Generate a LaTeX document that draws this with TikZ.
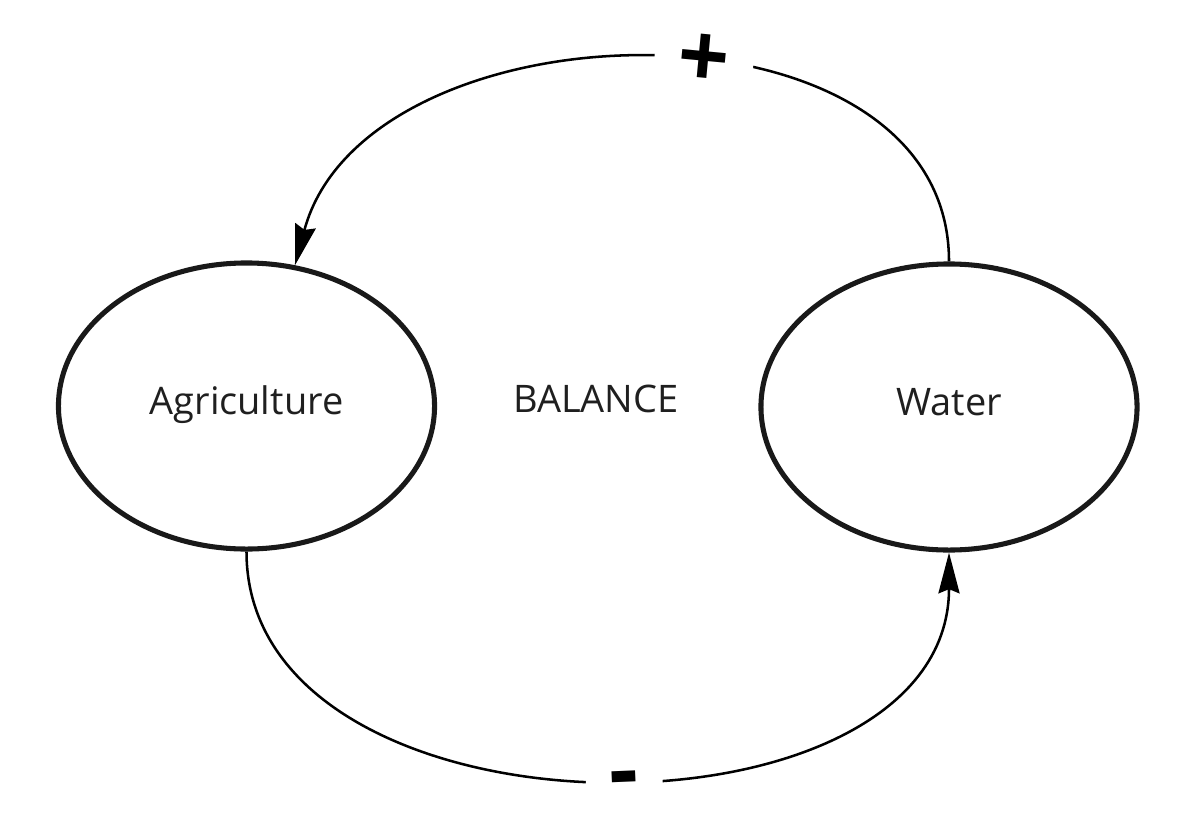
\documentclass[tikz,border=0pt]{standalone}
\usepackage{fontspec}
\setmainfont{Open Sans}
\usetikzlibrary{arrows.meta,shapes.geometric}

\begin{document}
\begin{tikzpicture}[x=0.025cm,y=-0.025cm,
    txt/.style={font=\fontsize{27}{32}\selectfont,text=black!88,text height=21pt,text depth=9.5pt},
    var/.style={txt,draw=black!90,line width=3.6pt,ellipse,minimum width=9.4cm,minimum height=7.15cm},
    link/.style={line width=1.8pt,-{Stealth[length=29pt,width=15pt,inset=3pt]}},
    sign/.style={font=\fontsize{64}{66}\selectfont\bfseries,fill=white,inner xsep=17pt,inner ysep=2pt,sloped}]
    \useasboundingbox (0,0) rectangle (1197,835);
    \node [var] (A) at (246.5,406) {Agriculture};
    \node [var] (W) at (949,407) {Water};
    \node [txt] (B) at (596,404) {BALANCE};
    \draw [link] (W.north) to [out=90,in=75,looseness=1.08] node [sign,pos=.44] {+} (A.71);
    \draw [link] (A.south) to [out=-90,in=-90,looseness=1.1] node [sign,pos=.525,yshift=-6pt] {-} (W.south);
\end{tikzpicture}
\end{document}
